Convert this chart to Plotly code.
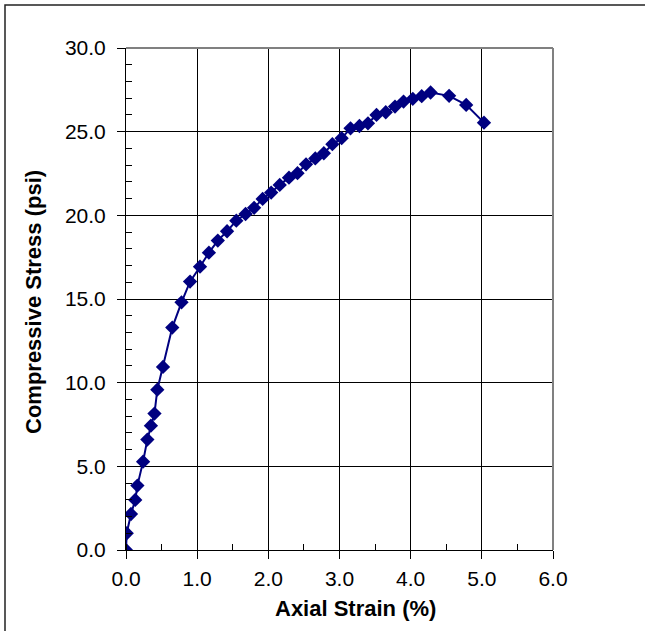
import plotly.graph_objects as go

# Stress-strain readings for the unconfined compression test
axial_strain = [0.0, 0.01, 0.07, 0.13, 0.16, 0.24, 0.30, 0.35, 0.40, 0.44,
                0.52, 0.65, 0.78, 0.90, 1.04, 1.165, 1.29, 1.42, 1.55, 1.68,
                1.80, 1.92, 2.04, 2.16, 2.29, 2.41, 2.53, 2.66, 2.78, 2.90,
                3.03, 3.155, 3.28, 3.40, 3.52, 3.65, 3.78, 3.90, 4.03, 4.155,
                4.28, 4.54, 4.78, 5.03]
compressive_stress = [0.0, 1.0, 2.15, 2.99, 3.85, 5.28, 6.6, 7.43, 8.15, 9.58,
                      10.94, 13.29, 14.8, 16.04, 16.93, 17.77, 18.49, 19.05, 19.68, 20.08,
                      20.45, 20.98, 21.36, 21.82, 22.25, 22.52, 23.05, 23.4, 23.71, 24.25,
                      24.61, 25.2, 25.34, 25.5, 26.0, 26.16, 26.5, 26.8, 26.96, 27.12,
                      27.34, 27.14, 26.6, 25.54]

x_ticks = [0, 1, 2, 3, 4, 5, 6]
y_ticks = [0, 5, 10, 15, 20, 25, 30]
x_title = "Axial Strain (%)"
y_title = "Compressive Stress (psi)"

W, H = 645, 631
L, R, T, B = 126, 92, 48, 81
pw, ph = W - L - R, H - T - B

fig = go.Figure()
fig.add_trace(go.Scatter(
    x=axial_strain, y=compressive_stress, mode="lines+markers",
    line=dict(color="#000080", width=2),
    marker=dict(symbol="diamond", size=11, color="#000080"),
    showlegend=False, hoverinfo="x+y",
))

family = "Liberation Sans, Arial, sans-serif"
tick_font = dict(family=family, size=21, color="black")
title_font = dict(family=family, size=22, color="black")

axis_common = dict(
    showline=True, linecolor="black", linewidth=1, mirror=False,
    showgrid=True, gridcolor="black", gridwidth=1, zeroline=False,
    ticks="outside", ticklen=8, tickcolor="black", tickwidth=1,
    tickfont=tick_font,
)

fig.update_layout(
    width=W, height=H,
    margin=dict(l=L, r=R, t=T, b=B),
    paper_bgcolor="white", plot_bgcolor="white",
    font=tick_font,
    xaxis=dict(
        range=[0, 6], tickvals=x_ticks,
        ticktext=[f"{v:.1f}" for v in x_ticks],
        ticklabelstandoff=2,
        minor=dict(dtick=0.5, tick0=0, ticks="inside", ticklen=6,
                   tickcolor="black", showgrid=False),
        **axis_common,
    ),
    yaxis=dict(
        range=[0, 30], tickvals=y_ticks,
        ticktext=[f"{v:.1f}" for v in y_ticks],
        ticklabelstandoff=7,
        minor=dict(dtick=1, tick0=0, ticks="inside", ticklen=6,
                   tickcolor="black", showgrid=False),
        **axis_common,
    ),
    annotations=[
        dict(text=f"<b>{x_title}</b>", xref="paper", yref="paper",
             x=(355 - L) / pw, y=(H - B - 608) / ph,
             xanchor="center", yanchor="middle", showarrow=False,
             font=title_font),
        dict(text=f"<b>{y_title}</b>", xref="paper", yref="paper",
             x=(33 - L) / pw, y=(H - B - 302) / ph, textangle=-90,
             xanchor="center", yanchor="middle", showarrow=False,
             font=title_font),
    ],
)

# Plot-area border on the top and right sides
fig.add_shape(type="line", xref="paper", yref="paper", x0=0, x1=1, y0=1, y1=1,
              line=dict(color="#808080", width=2), layer="above")
fig.add_shape(type="line", xref="paper", yref="paper", x0=1, x1=1, y0=0, y1=1,
              line=dict(color="#808080", width=2), layer="above")

# Outer chart frame
fig.add_shape(type="rect", xref="paper", yref="paper",
              x0=(5 - L) / pw, x1=(W + 20 - L) / pw,
              y0=(H - B - (H + 20)) / ph, y1=(H - B - 5) / ph,
              line=dict(color="#222222", width=1.5), layer="below")

fig.write_html("out.html")
